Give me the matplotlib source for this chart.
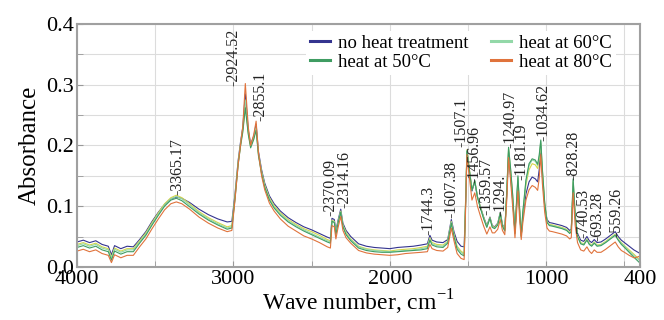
import numpy as np
import matplotlib
matplotlib.use("Agg")
import matplotlib.pyplot as plt
from matplotlib.ticker import FixedLocator, FormatStrFormatter

# wave numbers (cm-1)
wave = [4000, 3960, 3920, 3880, 3840, 3800, 3780, 3760, 3720, 3680,
        3640, 3600, 3560, 3520, 3480, 3440, 3400, 3365, 3330, 3280,
        3220, 3160, 3100, 3040, 3010, 2990, 2970, 2955, 2940, 2924,
        2905, 2890, 2870, 2855, 2840, 2820, 2800, 2770, 2740, 2700,
        2650, 2600, 2550, 2500, 2450, 2400, 2380, 2370, 2355, 2345,
        2330, 2314, 2300, 2280, 2250, 2200, 2150, 2100, 2050, 2000,
        1950, 1900, 1850, 1800, 1760, 1744, 1730, 1700, 1660, 1630,
        1607, 1590, 1570, 1545, 1525, 1515, 1507, 1495, 1475, 1457,
        1440, 1420, 1400, 1380, 1360, 1345, 1330, 1310, 1294, 1280,
        1265, 1252, 1241, 1228, 1215, 1200, 1190, 1181, 1170, 1160,
        1150, 1130, 1110, 1090, 1070, 1055, 1045, 1035, 1025, 1010,
        995, 980, 960, 930, 900, 870, 850, 840, 828, 815,
        800, 780, 760, 740, 725, 710, 693, 675, 650, 620,
        590, 570, 559, 540, 520, 500, 470, 440, 420, 400]

no_heat = [.041, .044, .040, .043, .037, .034, .020, .035, .030, .034,
           .033, .045, .058, .075, .090, .103, .112, .115, .113, .106,
           .095, .086, .079, .074, .075, .120, .175, .205, .230, .285,
           .225, .202, .215, .235, .190, .160, .138, .117, .104, .092,
           .081, .073, .066, .061, .055, .049, .047, .080, .078, .060,
           .078, .095, .072, .060, .050, .038, .034, .032, .031, .030,
           .032, .033, .034, .036, .038, .052, .044, .041, .040, .045,
           .078, .058, .042, .034, .033, .110, .190, .165, .125, .140,
           .115, .098, .082, .068, .082, .068, .066, .072, .090, .070,
           .062, .120, .188, .150, .110, .058, .100, .142, .090, .052,
           .080, .120, .140, .148, .145, .140, .160, .198, .150, .100,
           .078, .073, .072, .070, .068, .065, .060, .062, .132, .080,
           .055, .044, .042, .050, .043, .040, .045, .040, .041, .046,
           .052, .056, .058, .050, .044, .040, .034, .028, .025, .022]

heat_extra = [.037, .040, .036, .039, .033, .030, .016, .031, .026, .030,
              .030, .043, .056, .073, .089, .104, .114, .118, .114, .104,
              .091, .081, .073, .066, .068, .116, .172, .202, .226, .265,
              .220, .198, .212, .228, .185, .157, .135, .114, .101, .089,
              .078, .070, .063, .058, .052, .045, .043, .077, .075, .056,
              .075, .092, .069, .057, .046, .034, .030, .028, .027, .026,
              .028, .029, .030, .032, .034, .048, .040, .037, .036, .042,
              .075, .054, .034, .026, .022, .115, .193, .168, .128, .141,
              .116, .098, .081, .067, .081, .067, .065, .071, .089, .069,
              .061, .125, .193, .158, .116, .057, .104, .146, .092, .051,
              .086, .135, .160, .170, .168, .162, .178, .203, .158, .104,
              .075, .070, .069, .067, .065, .062, .057, .060, .140, .084,
              .052, .040, .038, .046, .039, .036, .041, .036, .037, .042,
              .048, .052, .054, .046, .040, .035, .028, .021, .016, .012]

heat_50 = [.032, .035, .031, .034, .028, .025, .011, .026, .021, .025,
           .025, .039, .052, .069, .085, .100, .110, .113, .109, .099,
           .087, .077, .069, .062, .064, .112, .168, .198, .222, .262,
           .218, .196, .210, .225, .183, .153, .131, .110, .097, .085,
           .074, .066, .059, .053, .047, .041, .039, .075, .073, .053,
           .073, .090, .066, .053, .043, .031, .027, .025, .024, .024,
           .025, .026, .027, .028, .030, .044, .036, .033, .032, .039,
           .072, .050, .029, .021, .018, .108, .191, .166, .126, .142,
           .115, .096, .079, .065, .080, .065, .063, .069, .088, .067,
           .059, .127, .197, .162, .120, .055, .108, .150, .094, .050,
           .090, .143, .170, .178, .176, .169, .184, .209, .162, .106,
           .073, .068, .067, .065, .063, .060, .055, .058, .145, .086,
           .050, .038, .036, .044, .037, .034, .039, .034, .035, .040,
           .046, .050, .052, .044, .037, .032, .024, .016, .011, .006]

heat_60 = [.035, .038, .034, .037, .031, .028, .014, .029, .024, .028,
           .028, .041, .054, .071, .087, .102, .112, .116, .112, .102,
           .089, .079, .071, .064, .066, .114, .170, .200, .227, .275,
           .222, .200, .213, .230, .187, .155, .133, .112, .099, .087,
           .076, .068, .061, .055, .049, .043, .041, .076, .074, .055,
           .074, .091, .068, .055, .045, .033, .029, .027, .026, .025,
           .026, .027, .028, .030, .032, .046, .038, .035, .034, .041,
           .074, .052, .032, .024, .020, .112, .192, .167, .127, .142,
           .116, .097, .080, .066, .080, .066, .064, .070, .088, .068,
           .060, .126, .195, .160, .118, .056, .106, .148, .093, .050,
           .088, .140, .167, .176, .174, .167, .182, .207, .160, .105,
           .074, .069, .068, .066, .064, .061, .056, .059, .143, .085,
           .051, .039, .037, .045, .038, .035, .040, .035, .036, .041,
           .047, .051, .053, .045, .039, .034, .026, .019, .014, .010]

heat_80 = [.026, .029, .025, .028, .022, .019, .007, .020, .015, .019,
           .019, .033, .046, .063, .079, .094, .104, .107, .104, .095,
           .082, .072, .064, .058, .060, .110, .168, .200, .232, .302,
           .230, .200, .218, .240, .188, .150, .127, .105, .092, .079,
           .067, .059, .051, .046, .040, .033, .031, .068, .066, .046,
           .066, .083, .060, .048, .039, .027, .023, .021, .020, .019,
           .020, .022, .023, .024, .025, .037, .030, .027, .026, .032,
           .064, .043, .022, .014, .012, .100, .185, .155, .110, .122,
           .100, .083, .067, .054, .066, .056, .056, .062, .078, .060,
           .053, .112, .180, .142, .100, .048, .088, .125, .078, .045,
           .072, .110, .127, .134, .131, .126, .146, .185, .138, .090,
           .064, .059, .058, .056, .054, .051, .046, .048, .122, .068,
           .040, .028, .026, .033, .026, .022, .028, .024, .024, .029,
           .035, .039, .041, .033, .027, .024, .019, .015, .016, .018]

# peak labels: text, x position, bottom of text
peak_labels = ["3365.17", "2924.52", "2855.1", "2370.09", "2314.16", "1744.3",
               "1607.38", "1507.1", "1456.96", "1359.57", "1294.", "1240.97",
               "1181.19", "1034.62", "828.28", "740.53", "693.28", "559.26"]
label_x = [3361, 3000, 2830, 2382, 2293, 1756, 1604, 1540, 1462, 1382, 1292,
           1231, 1157, 1020, 829, 760, 672, 549]
label_y = [0.118, 0.298, 0.240, 0.083, 0.097, 0.052, 0.080, 0.197, 0.138,
           0.086, 0.084, 0.196, 0.143, 0.208, 0.143, 0.047, 0.043, 0.049]

series = [
    (no_heat, "#34348f", "no heat treatment"),
    (heat_extra, "#d6d64a", "_nolegend_"),
    (heat_60, "#93d8a8", "heat at 60°C"),
    (heat_50, "#3f9c62", "heat at 50°C"),
    (heat_80, "#e0733c", "heat at 80°C"),
]

plt.rcParams["font.family"] = ["Liberation Serif", "DejaVu Serif"]
plt.rcParams["mathtext.fontset"] = "custom"
plt.rcParams["mathtext.rm"] = "Liberation Serif"

fig = plt.figure(figsize=(6.64, 3.2), dpi=100)
ax = fig.add_axes([0.116, 0.166, 0.848, 0.759])

lines = {}
for ys, col, lab in series:
    (ln,) = ax.plot(wave, ys, color=col, lw=0.8, label=lab)
    lines[lab] = ln

for txt, lx, ly in zip(peak_labels, label_x, label_y):
    ax.text(lx, ly, "-" + txt, rotation=90, ha="center", va="bottom",
            fontsize=11.5, color="#222222")

ax.set_xlim(4000, 400)
ax.set_ylim(0, 0.4)
ax.xaxis.set_major_locator(FixedLocator([4000, 3000, 2000, 1000, 400]))
ax.xaxis.set_minor_locator(FixedLocator([3500, 2500, 1500, 500]))
ax.yaxis.set_major_locator(FixedLocator([0.0, 0.1, 0.2, 0.3, 0.4]))
ax.yaxis.set_minor_locator(FixedLocator([0.05, 0.15, 0.25, 0.35]))
ax.yaxis.set_major_formatter(FormatStrFormatter("%.1f"))
ax.grid(True, which="both", color="#dcdcdc", lw=0.8)
ax.set_axisbelow(True)
ax.tick_params(which="both", direction="in", color="#999999", length=4,
               labelsize=16, pad=2)
for sp in ax.spines.values():
    sp.set_color("#a0a0a0")
    sp.set_linewidth(1.5)

ax.set_xlabel("Wave number, cm$^{\\mathrm{-1}}$", fontsize=17, labelpad=-1)
ax.set_ylabel("Absorbance", fontsize=18, labelpad=4)

order = ["no heat treatment", "heat at 50°C", "heat at 60°C", "heat at 80°C"]
leg = ax.legend([lines[k] for k in order], order, ncol=2, loc="upper left",
                bbox_to_anchor=(0.39, 1.01), fontsize=13.5, frameon=True,
                edgecolor="none", facecolor="white", framealpha=1,
                handlelength=1.1, handletextpad=0.4, columnspacing=1.2,
                labelspacing=0.1, borderpad=0.2)
for h in leg.get_lines():
    h.set_linewidth(2.2)

fig.savefig("out.png", dpi=100)
